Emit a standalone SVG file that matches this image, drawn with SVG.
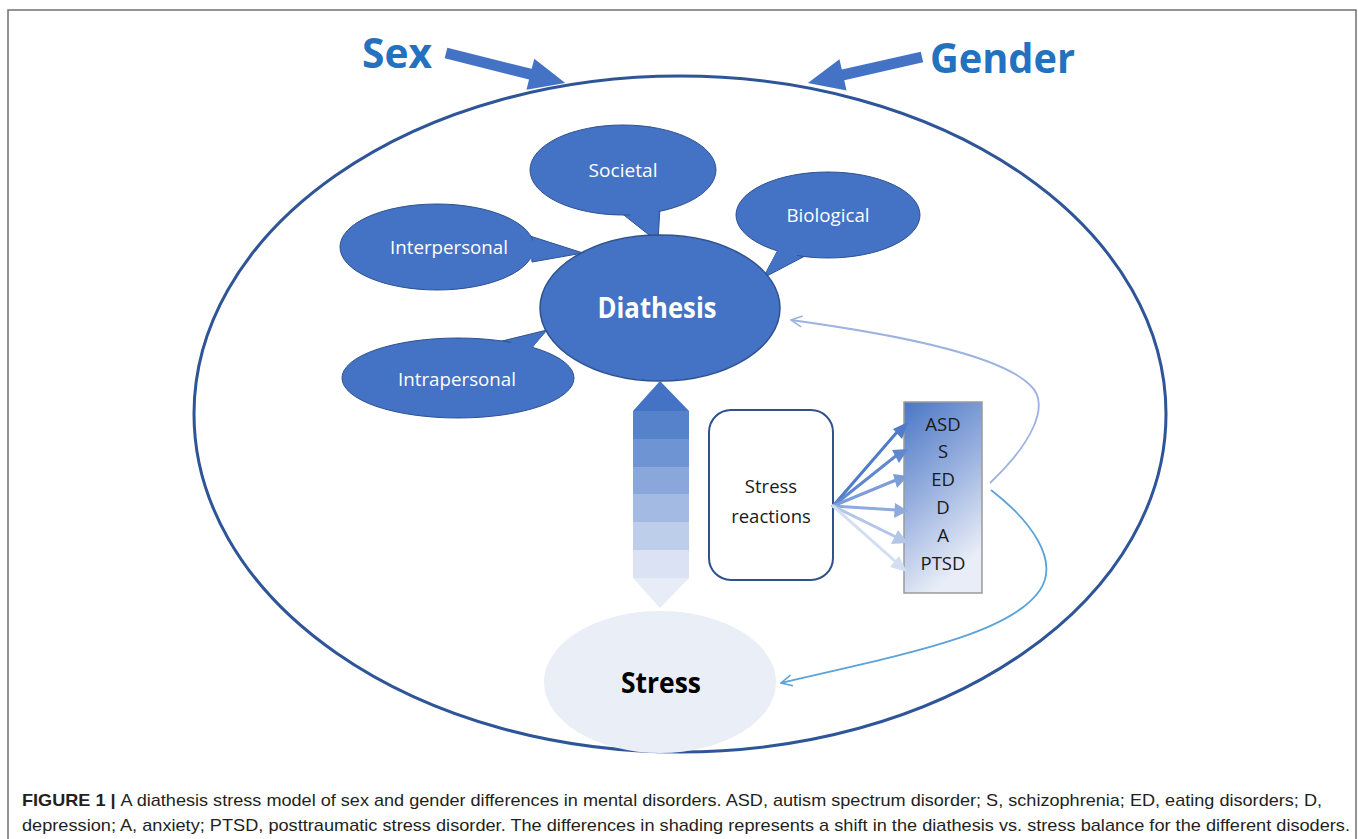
<svg xmlns="http://www.w3.org/2000/svg" width="1358" height="839" viewBox="0 0 1358 839">
  <style>
    .bubble { fill: #4472C4; stroke: #2F528F; stroke-width: 1; }
    .bubble-fill { fill: #4472C4; stroke: none; }
    .bubble-label { font-family: "Open Sans", "Liberation Sans", sans-serif; font-size: 18.5px; fill: #FFFFFF; text-anchor: middle; }
    .title { font-family: "Open Sans", "Liberation Sans", sans-serif; font-weight: bold; font-size: 42px; fill: #2372BF; }
    .node-bold { font-family: "Open Sans", "Liberation Sans", sans-serif; font-weight: bold; font-size: 28px; text-anchor: middle; }
    .plain { font-family: "Open Sans", "Liberation Sans", sans-serif; font-size: 18.5px; fill: #1A1A1A; text-anchor: middle; }
    .caption { font-family: "Liberation Sans", Arial, sans-serif; font-size: 17px; fill: #231F20; }
  </style>
  <defs>
    <linearGradient id="disorderGrad" x1="0" y1="0" x2="0.35" y2="1">
      <stop offset="0" stop-color="#4A77C6"/>
      <stop offset="0.5" stop-color="#97AFDE"/>
      <stop offset="1" stop-color="#E8EDF7"/>
    </linearGradient>
    <marker id="openHeadA" viewBox="0 0 14 14" refX="13" refY="7" markerWidth="14" markerHeight="14" markerUnits="userSpaceOnUse" orient="auto">
      <path d="M2 1.5 L13 7 L2 12.5" fill="none" stroke="#9DB3DF" stroke-width="1.6"/>
    </marker>
    <marker id="openHeadB" viewBox="0 0 14 14" refX="13" refY="7" markerWidth="14" markerHeight="14" markerUnits="userSpaceOnUse" orient="auto">
      <path d="M2 1.5 L13 7 L2 12.5" fill="none" stroke="#5BA3D9" stroke-width="1.6"/>
    </marker>
  </defs>

  <!-- page frame -->
  <path d="M8 845 L8 10 L1356 10 L1356 845" fill="none" stroke="#707070" stroke-width="1.5"/>

  <!-- outer boundary ellipse -->
  <ellipse id="boundary" cx="680" cy="414" rx="486" ry="338" fill="none" stroke="#2E5597" stroke-width="3"/>

  <!-- Sex / Gender headings with block arrows -->
  <g id="sex">
    <text class="title" x="362" y="68" textLength="70" lengthAdjust="spacingAndGlyphs">Sex</text>
    <polygon transform="translate(446,53) rotate(14.1)" points="0,-5.5 87,-5.5 87,-16 123,0 87,16 87,5.5 0,5.5" fill="#4472C4"/>
  </g>
  <g id="gender">
    <text class="title" x="930" y="73" textLength="145" lengthAdjust="spacingAndGlyphs">Gender</text>
    <polygon transform="translate(922,57) rotate(167.2)" points="0,-5.5 81,-5.5 81,-16 117,0 81,16 81,5.5 0,5.5" fill="#4472C4"/>
  </g>

  <!-- diathesis factor bubbles -->
  <g id="societal">
    <polygon class="bubble" points="620,212 660,207 658,242"/>
    <ellipse class="bubble" cx="623" cy="170" rx="93" ry="45"/>
    <polygon class="bubble-fill" points="622,208 658,204 657,238"/>
    <text class="bubble-label" x="623" y="177" textLength="69" lengthAdjust="spacingAndGlyphs">Societal</text>
  </g>
  <g id="biological">
    <polygon class="bubble" points="778,250 805,256 763,278"/>
    <ellipse class="bubble" cx="828" cy="215" rx="92" ry="43"/>
    <polygon class="bubble-fill" points="780,246 803,252 765,274"/>
    <text class="bubble-label" x="828" y="222" textLength="83" lengthAdjust="spacingAndGlyphs">Biological</text>
  </g>
  <g id="interpersonal">
    <polygon class="bubble" points="530,236 583,253 532,262"/>
    <ellipse class="bubble" cx="437" cy="247" rx="97" ry="43"/>
    <polygon class="bubble-fill" points="528,239 578,253 530,259"/>
    <text class="bubble-label" x="449" y="254" textLength="118" lengthAdjust="spacingAndGlyphs">Interpersonal</text>
  </g>
  <g id="intrapersonal">
    <polygon class="bubble" points="490,344 547,330 528,352"/>
    <ellipse class="bubble" cx="458" cy="378" rx="116" ry="40"/>
    <polygon class="bubble-fill" points="494,347 543,334 527,355"/>
    <text class="bubble-label" x="457" y="386" textLength="118" lengthAdjust="spacingAndGlyphs">Intrapersonal</text>
  </g>

  <!-- central nodes -->
  <g id="diathesis">
    <ellipse cx="660" cy="308" rx="120" ry="73" fill="#4472C4" stroke="#2F528F" stroke-width="1.5"/>
    <text class="node-bold" x="657" y="318" fill="#FFFFFF" textLength="119" lengthAdjust="spacingAndGlyphs">Diathesis</text>
  </g>

  <g id="balance">
    <polygon points="660,381 689,411 633,411" fill="#4472C4"/>
    <rect x="633" y="411" width="56" height="28" fill="#5682CB"/>
    <rect x="633" y="439" width="56" height="28" fill="#6F94D3"/>
    <rect x="633" y="467" width="56" height="27" fill="#89A7DA"/>
    <rect x="633" y="494" width="56" height="28" fill="#A3BBE3"/>
    <rect x="633" y="522" width="56" height="28" fill="#BDCEEB"/>
    <rect x="633" y="550" width="56" height="28" fill="#DAE2F3"/>
    <polygon points="633,578 689,578 660,608" fill="#E7ECF7"/>
  </g>

  <g id="stress">
    <ellipse cx="660" cy="682" rx="116" ry="71" fill="#E9EEF7"/>
    <text class="node-bold" x="661" y="693" fill="#000000" textLength="80" lengthAdjust="spacingAndGlyphs">Stress</text>
  </g>

  <g id="stress-reactions">
    <rect x="709" y="410" width="124" height="170" rx="22" ry="22" fill="#FFFFFF" stroke="#2F528F" stroke-width="2"/>
    <text class="plain" x="771" y="493">Stress</text>
    <text class="plain" x="771" y="523">reactions</text>
  </g>

  <g id="disorders">
    <rect x="904" y="402" width="78" height="191" fill="url(#disorderGrad)" stroke="#9A9A9A" stroke-width="1.5"/>
    <text class="plain" x="943" y="431">ASD</text>
    <text class="plain" x="943" y="458">S</text>
    <text class="plain" x="943" y="486">ED</text>
    <text class="plain" x="943" y="514">D</text>
    <text class="plain" x="943" y="542">A</text>
    <text class="plain" x="943" y="570">PTSD</text>
  </g>

  <!-- connectors -->
  <g id="connectors">
    <!-- fan of reaction arrows, fading toward PTSD -->
    <g stroke-width="3" stroke-linecap="round">
      <line x1="833" y1="506" x2="898" y2="431" stroke="#4F7BC8"/>
      <polygon points="908,422 893,429 902,439" fill="#4F7BC8"/>
      <line x1="833" y1="506" x2="897" y2="455" stroke="#5F88CE"/>
      <polygon points="908,449 892,450 899,463" fill="#5F88CE"/>
      <line x1="833" y1="506" x2="896" y2="480" stroke="#7D9DD7"/>
      <polygon points="908,476 893,474 897,488" fill="#7D9DD7"/>
      <line x1="833" y1="506" x2="896" y2="510" stroke="#8FAADC"/>
      <polygon points="908,511 895,503 894,518" fill="#8FAADC"/>
      <line x1="833" y1="506" x2="896" y2="537" stroke="#B3C6E8"/>
      <polygon points="908,543 898,530 891,544" fill="#B3C6E8"/>
      <line x1="833" y1="506" x2="896" y2="562" stroke="#D3DEF2"/>
      <polygon points="907,572 899,556 890,567" fill="#D3DEF2"/>
    </g>
    <!-- feedback to diathesis -->
    <path d="M990 483 C1030 445, 1052 405, 1030 385 C1000 355, 900 335, 791 320" fill="none" stroke="#9DB3DF" stroke-width="1.8" marker-end="url(#openHeadA)"/>
    <!-- feedback to stress -->
    <path d="M991 490 C1030 520, 1060 560, 1040 590 C1010 635, 900 655, 781 683" fill="none" stroke="#5BA3D9" stroke-width="1.8" marker-end="url(#openHeadB)"/>
  </g>

  <!-- caption -->
  <g id="caption">
    <text class="caption" x="22" y="806" textLength="1300" lengthAdjust="spacingAndGlyphs"><tspan font-weight="bold">FIGURE 1 | </tspan>A diathesis stress model of sex and gender differences in mental disorders. ASD, autism spectrum disorder; S, schizophrenia; ED, eating disorders; D,</text>
    <text class="caption" x="22" y="831" textLength="1328" lengthAdjust="spacingAndGlyphs">depression; A, anxiety; PTSD, posttraumatic stress disorder. The differences in shading represents a shift in the diathesis vs. stress balance for the different disoders.</text>
  </g>
</svg>
